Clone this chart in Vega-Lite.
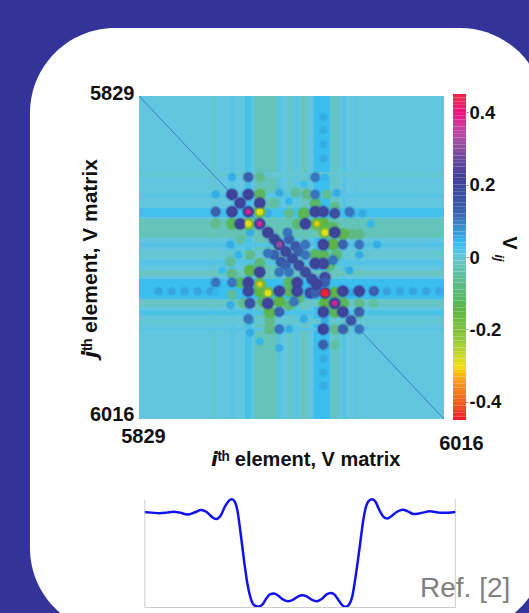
{"$schema":"https://vega.github.io/schema/vega-lite/v6.json","width":529,"height":613,"autosize":{"type":"none"},"padding":0,"background":"#343399","config":{"view":{"stroke":null}},"resolve":{"scale":{"x":"independent","y":"independent"}},"layer":[
{"data":{"values":[{"x0":0,"x1":1,"y0":0,"y1":1}]},"mark":{"type":"rect","fill":"#ffffff","cornerRadius":85},"encoding":{"x":{"field":"x0","type":"quantitative","scale":{"domain":[0,1],"range":[30,545]},"axis":null},"x2":{"field":"x1"},"y":{"field":"y0","type":"quantitative","scale":{"domain":[0,1],"range":[28,633]},"axis":null},"y2":{"field":"y1"}}},
{"encoding":{"x":{"field":"i","type":"quantitative","scale":{"domain":[5829,6016],"range":[139,444]},"axis":{"orient":"bottom","offset":-194,"zindex":1,"values":[5829,6016],"format":"d","domain":false,"ticks":false,"grid":false,"labelBound":false,"labelFlush":false,"labelOverlap":false,"labelFont":"Liberation Sans","labelFontWeight":"bold","labelFontSize":20,"labelColor":"#111111","labelBaseline":"middle","labelOffset":{"condition":{"test":"datum.value==5829","value":4},"value":17},"labelPadding":{"condition":{"test":"datum.value==5829","value":17},"value":24},"title":"𝙞ᵗʰ element, V matrix","titleFont":"Liberation Sans","titleFontWeight":"bold","titleFontSize":20,"titleColor":"#111111","titleX":305,"titleY":40,"titleAlign":"center","titleBaseline":"middle"}},"y":{"field":"j","type":"quantitative","scale":{"domain":[5829,6016],"range":[96,419]},"axis":{"orient":"left","offset":-139,"zindex":1,"values":[5829,6016],"format":"d","domain":false,"ticks":false,"grid":false,"labelBound":false,"labelFlush":false,"labelOverlap":false,"labelFont":"Liberation Sans","labelFontWeight":"bold","labelFontSize":20,"labelColor":"#111111","labelPadding":5,"labelOffset":{"condition":{"test":"datum.value==5829","value":-3},"value":-5},"title":"𝙟ᵗʰ element, V matrix","titleFont":"Liberation Sans","titleFontWeight":"bold","titleFontSize":21,"titleColor":"#111111","titleX":-49,"titleY":258,"titleAngle":-90,"titleAlign":"center","titleBaseline":"middle"}}},"layer":[
{"data":{"values":[{"i":5829,"i2":6016,"j":5829,"j2":6016,"v":0},
{"i":5873,"i2":5876,"j":5829,"j2":6016,"v":-0.008},{"i":5885,"i2":5888,"j":5829,"j2":6016,"v":0.008},{"i":5894,"i2":5898,"j":5829,"j2":6016,"v":0.02},{"i":5900,"i2":5914,"j":5829,"j2":6016,"v":-0.028},{"i":5914,"i2":5916,"j":5829,"j2":6016,"v":0.012},{"i":5920,"i2":5924,"j":5829,"j2":6016,"v":-0.014},{"i":5924,"i2":5927,"j":5829,"j2":6016,"v":0.006},{"i":5928,"i2":5932,"j":5829,"j2":6016,"v":-0.022},{"i":5936,"i2":5946,"j":5829,"j2":6016,"v":0.03},{"i":5946,"i2":5952,"j":5829,"j2":6016,"v":-0.014},{"i":5954,"i2":5956,"j":5829,"j2":6016,"v":0.012},{"i":5961,"i2":5964,"j":5829,"j2":6016,"v":-0.006},
{"j":5873,"j2":5876,"i":5829,"i2":6016,"v":-0.008},{"j":5885,"j2":5888,"i":5829,"i2":6016,"v":0.008},{"j":5894,"j2":5899,"i":5829,"i2":6016,"v":0.025},{"j":5900,"j2":5911,"i":5829,"i2":6016,"v":-0.028},{"j":5914,"j2":5916.5,"i":5829,"i2":6016,"v":0.012},{"j":5918.5,"j2":5923,"i":5829,"i2":6016,"v":-0.01},{"j":5924,"j2":5927,"i":5829,"i2":6016,"v":0.01},{"j":5930,"j2":5933,"i":5829,"i2":6016,"v":-0.022},{"j":5935,"j2":5946.5,"i":5829,"i2":6016,"v":0.03},{"j":5947,"j2":5951,"i":5829,"i2":6016,"v":-0.018},{"j":5953,"j2":5956,"i":5829,"i2":6016,"v":0.018},{"j":5958,"j2":5961,"i":5829,"i2":6016,"v":-0.008},{"j":5963,"j2":5965,"i":5829,"i2":6016,"v":0.008}]},
"mark":{"type":"rect"},"encoding":{"x2":{"field":"i2"},"y2":{"field":"j2"},"color":{"field":"v","type":"quantitative","legend":null,"scale":{"domain":[-0.45,-0.43,-0.353,-0.307,-0.224,-0.15,-0.076,-0.02,0,0.034,0.08,0.117,0.17,0.218,0.265,0.31,0.357,0.384,0.43,0.45],"range":["#ed2028","#ee3a27","#f7941d","#f0e014","#8dc63f","#5db546","#62ba88","#6ac5c0","#62c6e0","#33bdf0","#3d8ccb","#3a62ae","#3b4da0","#3f3f96","#6a4a9c","#9c4f9f","#d0399c","#e9168c","#ee2a5a","#ee2030"]}}}},
{"data":{"values":[{"i":5829,"j":5829},{"i":6016,"j":6016}]},"mark":{"type":"line","color":"#3a7fc1","strokeWidth":1}},
{"data":{"values":[
{"i":5841,"j":5942,"v":0.055},{"i":5849,"j":5942,"v":0.055},{"i":5857,"j":5942,"v":0.055},{"i":5865,"j":5942,"v":0.055},{"i":5873,"j":5942,"v":0.06},{"i":5981,"j":5942,"v":0.06},{"i":5989,"j":5942,"v":0.055},{"i":5997,"j":5942,"v":0.055},{"i":6005,"j":5942,"v":0.055},{"i":6013,"j":5942,"v":0.055},
{"j":5841,"i":5942,"v":0.05},{"j":5849,"i":5942,"v":0.05},{"j":5857,"i":5942,"v":0.05},{"j":5865,"i":5942,"v":0.05},{"j":5981,"i":5942,"v":0.05},{"j":5989,"i":5942,"v":0.05},{"j":5997,"i":5942,"v":0.05},
{"i":5886,"j":5876,"v":0.05},{"j":5886,"i":5876,"v":0.05},{"i":5908,"j":5897,"v":0.05},{"j":5908,"i":5897,"v":0.05},{"i":5915,"j":5885,"v":0.05},{"j":5915,"i":5885,"v":0.05},{"i":5921,"j":5890,"v":0.04},{"j":5921,"i":5890,"v":0.04},{"i":5930,"j":5880,"v":0.03},{"j":5930,"i":5880,"v":0.03},{"i":5943,"j":5876,"v":0.04},{"j":5943,"i":5876,"v":0.04},{"i":5950,"j":5885,"v":0.05},{"j":5950,"i":5885,"v":0.05},{"i":5959,"j":5897,"v":0.06},{"j":5959,"i":5897,"v":0.06},{"i":5966,"j":5897,"v":0.05},{"j":5966,"i":5897,"v":0.05},{"i":5971,"j":5903,"v":0.04},{"j":5971,"i":5903,"v":0.04},{"i":5975,"j":5915,"v":0.05},{"j":5975,"i":5915,"v":0.05},{"i":5964,"j":5921,"v":0.05},{"j":5964,"i":5921,"v":0.05},{"i":5958,"j":5930,"v":0.05},{"j":5958,"i":5930,"v":0.05},{"i":5959,"j":5943,"v":0.05},{"j":5959,"i":5943,"v":0.05},
{"i":5903,"j":5876,"v":-0.07},{"j":5903,"i":5876,"v":-0.07},{"i":5921,"j":5897,"v":-0.07},{"j":5921,"i":5897,"v":-0.07},{"i":5925,"j":5885,"v":-0.06},{"j":5925,"i":5885,"v":-0.06},{"i":5932,"j":5886,"v":-0.08},{"j":5932,"i":5886,"v":-0.08},{"i":5944,"j":5886,"v":-0.06},{"j":5944,"i":5886,"v":-0.06},{"i":5949,"j":5893,"v":-0.07},{"j":5949,"i":5893,"v":-0.07},{"i":5912,"j":5891,"v":-0.05},{"j":5912,"i":5891,"v":-0.05},{"i":5959,"j":5909,"v":-0.08},{"j":5959,"i":5909,"v":-0.08},{"i":5964,"j":5909,"v":-0.08},{"j":5964,"i":5909,"v":-0.08},{"i":5964,"j":5949,"v":-0.07},{"j":5964,"i":5949,"v":-0.07},{"i":5964,"j":5955,"v":-0.06},{"j":5964,"i":5955,"v":-0.06},{"i":5973,"j":5949,"v":-0.05},{"j":5973,"i":5949,"v":-0.05},
{"i":5903,"j":5886,"v":-0.13},{"j":5903,"i":5886,"v":-0.13},{"i":5937,"j":5891,"v":-0.12},{"j":5937,"i":5891,"v":-0.12},{"i":5930,"j":5897,"v":-0.14},{"j":5930,"i":5897,"v":-0.14},{"i":5926,"j":5903,"v":-0.1},{"j":5926,"i":5903,"v":-0.1},{"i":5942,"j":5903,"v":-0.15},{"j":5942,"i":5903,"v":-0.15},{"i":5948,"j":5905,"v":-0.12},{"j":5948,"i":5905,"v":-0.12},{"i":5954,"j":5909,"v":-0.14},{"j":5954,"i":5909,"v":-0.14},{"i":5948,"j":5915,"v":-0.15},{"j":5948,"i":5915,"v":-0.15},{"i":5942,"j":5921,"v":-0.13},{"j":5942,"i":5921,"v":-0.13},{"i":5937,"j":5921,"v":-0.12},{"j":5937,"i":5921,"v":-0.12},{"i":5950,"j":5921,"v":-0.1},{"j":5950,"i":5921,"v":-0.1},{"i":5946,"j":5927,"v":-0.1},{"j":5946,"i":5927,"v":-0.1},{"i":5949,"j":5943,"v":-0.15},{"j":5949,"i":5943,"v":-0.15},{"i":5954,"j":5949,"v":-0.13},{"j":5954,"i":5949,"v":-0.13},
{"i":5938,"j":5903,"v":-0.17},{"j":5938,"i":5903,"v":-0.17},{"i":5943,"j":5908,"v":-0.17},{"j":5943,"i":5908,"v":-0.17},{"i":5903,"j":5896,"v":-0.17},{"j":5903,"i":5896,"v":-0.17},
{"i":5937,"j":5876,"v":0.1},{"j":5937,"i":5876,"v":0.1},{"i":5896,"j":5876,"v":0.12},{"j":5896,"i":5876,"v":0.12},{"i":5937,"j":5886,"v":0.1},{"j":5937,"i":5886,"v":0.1},{"i":5958,"j":5896,"v":0.1},{"j":5958,"i":5896,"v":0.1},{"i":5954,"j":5915,"v":0.12},{"j":5954,"i":5915,"v":0.12},{"i":5964,"j":5915,"v":0.1},{"j":5964,"i":5915,"v":0.1},{"i":5931,"j":5915,"v":0.1},{"j":5931,"i":5915,"v":0.1},{"i":5921,"j":5912,"v":0.12},{"j":5921,"i":5912,"v":0.12},{"i":5925,"j":5916,"v":0.14},{"j":5925,"i":5916,"v":0.14},{"i":5927,"j":5919,"v":0.12},{"j":5927,"i":5919,"v":0.12},{"i":5931,"j":5921,"v":0.1},{"j":5931,"i":5921,"v":0.1},{"i":5920,"j":5908,"v":0.1},{"j":5920,"i":5908,"v":0.1},{"i":5948,"j":5924,"v":0.1},{"j":5948,"i":5924,"v":0.1},{"i":5973,"j":5942,"v":0.12},{"j":5973,"i":5942,"v":0.12},{"i":5964,"j":5954,"v":0.12},{"j":5964,"i":5954,"v":0.12},
{"i":5896,"j":5886,"v":0.2},{"j":5896,"i":5886,"v":0.2},{"i":5903,"j":5891,"v":0.2},{"j":5903,"i":5891,"v":0.2},{"i":5937,"j":5896,"v":0.2},{"j":5937,"i":5896,"v":0.2},{"i":5942,"j":5896,"v":0.19},{"j":5942,"i":5896,"v":0.19},{"i":5949,"j":5897,"v":0.16},{"j":5949,"i":5897,"v":0.16},{"i":5931,"j":5903,"v":0.2},{"j":5931,"i":5903,"v":0.2},{"i":5949,"j":5908,"v":0.2},{"j":5949,"i":5908,"v":0.2},{"i":5942,"j":5915,"v":0.2},{"j":5942,"i":5915,"v":0.2},{"i":5937,"j":5926,"v":0.2},{"j":5937,"i":5926,"v":0.2},{"i":5942,"j":5926,"v":0.2},{"j":5942,"i":5926,"v":0.2},{"i":5943,"j":5934,"v":0.18},{"j":5943,"i":5934,"v":0.18},{"i":5943,"j":5937,"v":0.12},{"j":5943,"i":5937,"v":0.12},{"i":5954,"j":5942,"v":0.2},{"j":5954,"i":5942,"v":0.2},{"i":5964,"j":5942,"v":0.2},{"j":5964,"i":5942,"v":0.2},
{"i":5886,"j":5886,"v":0.2},{"i":5891,"j":5891,"v":0.2},{"i":5896,"j":5896,"v":0.2},{"i":5903,"j":5903,"v":0.2},{"i":5908,"j":5908,"v":0.2},{"i":5912,"j":5912,"v":0.18},{"i":5915,"j":5915,"v":0.2},{"i":5919,"j":5919,"v":0.18},{"i":5923,"j":5923,"v":0.17},{"i":5927,"j":5927,"v":0.17},{"i":5931,"j":5931,"v":0.17},{"i":5935,"j":5935,"v":0.18},{"i":5938,"j":5938,"v":0.2},{"i":5943,"j":5943,"v":0.2},{"i":5949,"j":5949,"v":0.2},{"i":5954,"j":5954,"v":0.2},{"i":5959,"j":5959,"v":0.15},{"i":5964,"j":5964,"v":0.1},
{"i":5938,"j":5903,"v":-0.32},{"j":5938,"i":5903,"v":-0.32},{"i":5943,"j":5908,"v":-0.3},{"j":5943,"i":5908,"v":-0.3},{"i":5903,"j":5896,"v":-0.3},{"j":5903,"i":5896,"v":-0.3},{"i":5896,"j":5896,"v":0.38},{"i":5903,"j":5903,"v":0.38},{"i":5915,"j":5915,"v":0.3},{"i":5949,"j":5949,"v":0.38},{"i":5943,"j":5943,"v":0.45}]},
"mark":{"type":"circle","opacity":1,"strokeWidth":3,"strokeOpacity":0.3},"encoding":{"color":{"field":"v","type":"quantitative","legend":null},"stroke":{"field":"v","type":"quantitative","legend":null,"scale":{"domain":[-0.45,-0.43,-0.353,-0.307,-0.224,-0.15,-0.076,-0.02,0,0.034,0.08,0.117,0.17,0.218,0.265,0.31,0.357,0.384,0.43,0.45],"range":["#ed2028","#ee3a27","#f7941d","#f0e014","#8dc63f","#5db546","#62ba88","#6ac5c0","#62c6e0","#33bdf0","#3d8ccb","#3a62ae","#3b4da0","#3f3f96","#6a4a9c","#9c4f9f","#d0399c","#e9168c","#ee2a5a","#ee2030"]}},"size":{"field":"v","type":"quantitative","legend":null,"scale":{"domain":[-0.32,-0.17,-0.05,0.03,0.1,0.2,0.3,0.38,0.45],"range":[20,140,80,40,80,120,30,20,55]}}}}
]},
{"data":{"values":[{"v":-0.45,"v2":-0.44},{"v":-0.44,"v2":-0.43},{"v":-0.43,"v2":-0.42},{"v":-0.42,"v2":-0.41},{"v":-0.41,"v2":-0.4},{"v":-0.4,"v2":-0.39},{"v":-0.39,"v2":-0.38},{"v":-0.38,"v2":-0.37},{"v":-0.37,"v2":-0.36},{"v":-0.36,"v2":-0.35},{"v":-0.35,"v2":-0.34},{"v":-0.34,"v2":-0.33},{"v":-0.33,"v2":-0.32},{"v":-0.32,"v2":-0.31},{"v":-0.31,"v2":-0.3},{"v":-0.3,"v2":-0.29},{"v":-0.29,"v2":-0.28},{"v":-0.28,"v2":-0.27},{"v":-0.27,"v2":-0.26},{"v":-0.26,"v2":-0.25},{"v":-0.25,"v2":-0.24},{"v":-0.24,"v2":-0.23},{"v":-0.23,"v2":-0.22},{"v":-0.22,"v2":-0.21},{"v":-0.21,"v2":-0.2},{"v":-0.2,"v2":-0.19},{"v":-0.19,"v2":-0.18},{"v":-0.18,"v2":-0.17},{"v":-0.17,"v2":-0.16},{"v":-0.16,"v2":-0.15},{"v":-0.15,"v2":-0.14},{"v":-0.14,"v2":-0.13},{"v":-0.13,"v2":-0.12},{"v":-0.12,"v2":-0.11},{"v":-0.11,"v2":-0.1},{"v":-0.1,"v2":-0.09},{"v":-0.09,"v2":-0.08},{"v":-0.08,"v2":-0.07},{"v":-0.07,"v2":-0.06},{"v":-0.06,"v2":-0.05},{"v":-0.05,"v2":-0.04},{"v":-0.04,"v2":-0.03},{"v":-0.03,"v2":-0.02},{"v":-0.02,"v2":-0.01},{"v":-0.01,"v2":0},{"v":0,"v2":0.01},{"v":0.01,"v2":0.02},{"v":0.02,"v2":0.03},{"v":0.03,"v2":0.04},{"v":0.04,"v2":0.05},{"v":0.05,"v2":0.06},{"v":0.06,"v2":0.07},{"v":0.07,"v2":0.08},{"v":0.08,"v2":0.09},{"v":0.09,"v2":0.1},{"v":0.1,"v2":0.11},{"v":0.11,"v2":0.12},{"v":0.12,"v2":0.13},{"v":0.13,"v2":0.14},{"v":0.14,"v2":0.15},{"v":0.15,"v2":0.16},{"v":0.16,"v2":0.17},{"v":0.17,"v2":0.18},{"v":0.18,"v2":0.19},{"v":0.19,"v2":0.2},{"v":0.2,"v2":0.21},{"v":0.21,"v2":0.22},{"v":0.22,"v2":0.23},{"v":0.23,"v2":0.24},{"v":0.24,"v2":0.25},{"v":0.25,"v2":0.26},{"v":0.26,"v2":0.27},{"v":0.27,"v2":0.28},{"v":0.28,"v2":0.29},{"v":0.29,"v2":0.3},{"v":0.3,"v2":0.31},{"v":0.31,"v2":0.32},{"v":0.32,"v2":0.33},{"v":0.33,"v2":0.34},{"v":0.34,"v2":0.35},{"v":0.35,"v2":0.36},{"v":0.36,"v2":0.37},{"v":0.37,"v2":0.38},{"v":0.38,"v2":0.39},{"v":0.39,"v2":0.4},{"v":0.4,"v2":0.41},{"v":0.41,"v2":0.42},{"v":0.42,"v2":0.43},{"v":0.43,"v2":0.44},{"v":0.44,"v2":0.45}]},"mark":{"type":"rect","stroke":null},"encoding":{"x":{"datum":0,"type":"quantitative","scale":{"domain":[0,1],"range":[453,466]},"axis":null},"x2":{"datum":1},"y":{"field":"v","type":"quantitative","scale":{"domain":[-0.45,0.45],"range":[420,94]},"axis":{"orient":"right","offset":-63,"zindex":1,"values":[-0.4,-0.2,0,0.2,0.4],"domain":false,"tickSize":2,"tickColor":"#888888","grid":false,"title":null,"labelExpr":"datum.value === 0 ? '0' : (datum.value<0?'-':'') + format(abs(datum.value),'.1f')","labelFont":"Liberation Sans","labelFontWeight":"bold","labelFontSize":18.5,"labelColor":"#111111","labelPadding":1,"labelOverlap":false}},"y2":{"field":"v2"},"color":{"field":"v","type":"quantitative","legend":null}}},
{"data":{"values":[{"b":4.3,"v":0.0386,"label":"V"}]},"mark":{"type":"text","font":"Liberation Sans","fontWeight":"bold","fontSize":20,"angle":90,"color":"#111111","align":"center","baseline":"middle"},"encoding":{"x":{"field":"b","type":"quantitative","scale":{"domain":[0,1],"range":[453,466]},"axis":null},"y":{"field":"v","type":"quantitative","scale":{"domain":[-0.45,0.45],"range":[420,94]},"axis":null},"text":{"field":"label"}}},
{"data":{"values":[{"b":3.54,"v":-0.003,"label":"ij"}]},"mark":{"type":"text","font":"Liberation Sans","fontWeight":"bold","fontStyle":"italic","fontSize":13,"angle":90,"color":"#111111","align":"center","baseline":"middle"},"encoding":{"x":{"field":"b","type":"quantitative","scale":{"domain":[0,1],"range":[453,466]},"axis":null},"y":{"field":"v","type":"quantitative","scale":{"domain":[-0.45,0.45],"range":[420,94]},"axis":null},"text":{"field":"label"}}},
{"encoding":{"x":{"field":"position","type":"quantitative","scale":{"domain":[43,976],"range":[144.3,455.3]},"axis":{"orient":"bottom","offset":-6,"zindex":1,"ticks":false,"labels":false,"grid":false,"title":null,"domainColor":"#cccccc","domainWidth":1}},"y":{"field":"value","type":"quantitative","scale":{"domain":[0,325],"range":[607,499]},"axis":{"orient":"left","offset":-144.3,"zindex":1,"ticks":false,"labels":false,"grid":false,"title":null,"domainColor":"#cccccc","domainWidth":1}}},"layer":[
{"data":{"values":[{"position":976,"value":0},{"position":976,"value":325}]},"mark":{"type":"line","color":"#cccccc","strokeWidth":1}},
{"data":{"values":[{"position":43,"value":286},{"position":65,"value":284},{"position":90,"value":282},{"position":110,"value":284},{"position":130,"value":287},{"position":150,"value":284},{"position":172,"value":278},{"position":195,"value":285},{"position":213,"value":292},{"position":230,"value":286},{"position":245,"value":272},{"position":258,"value":265},{"position":270,"value":272},{"position":285,"value":302},{"position":297,"value":320},{"position":305,"value":324},{"position":313,"value":319},{"position":322,"value":292},{"position":332,"value":222},{"position":342,"value":142},{"position":352,"value":72},{"position":362,"value":27},{"position":372,"value":6},{"position":385,"value":1},{"position":397,"value":7},{"position":410,"value":27},{"position":420,"value":38},{"position":432,"value":41},{"position":445,"value":34},{"position":460,"value":22},{"position":475,"value":17},{"position":490,"value":22},{"position":505,"value":32},{"position":517,"value":35},{"position":530,"value":32},{"position":545,"value":22},{"position":560,"value":17},{"position":575,"value":24},{"position":590,"value":38},{"position":603,"value":42},{"position":615,"value":36},{"position":628,"value":17},{"position":640,"value":3},{"position":648,"value":1},{"position":657,"value":7},{"position":667,"value":32},{"position":677,"value":92},{"position":690,"value":187},{"position":700,"value":262},{"position":708,"value":302},{"position":717,"value":320},{"position":727,"value":324},{"position":737,"value":316},{"position":748,"value":292},{"position":760,"value":272},{"position":772,"value":266},{"position":785,"value":274},{"position":800,"value":286},{"position":818,"value":293},{"position":835,"value":287},{"position":850,"value":280},{"position":870,"value":282},{"position":900,"value":288},{"position":930,"value":284},{"position":955,"value":284},{"position":976,"value":286}]},"mark":{"type":"line","color":"#1212ee","strokeWidth":2.5,"interpolate":"monotone"}},
{"data":{"values":[{"position":1141,"value":30,"label":"Ref. [2]"}]},"mark":{"type":"text","font":"Liberation Sans","fontSize":28,"color":"#808080","align":"right","baseline":"alphabetic"},"encoding":{"text":{"field":"label"}}}
]}
]}
